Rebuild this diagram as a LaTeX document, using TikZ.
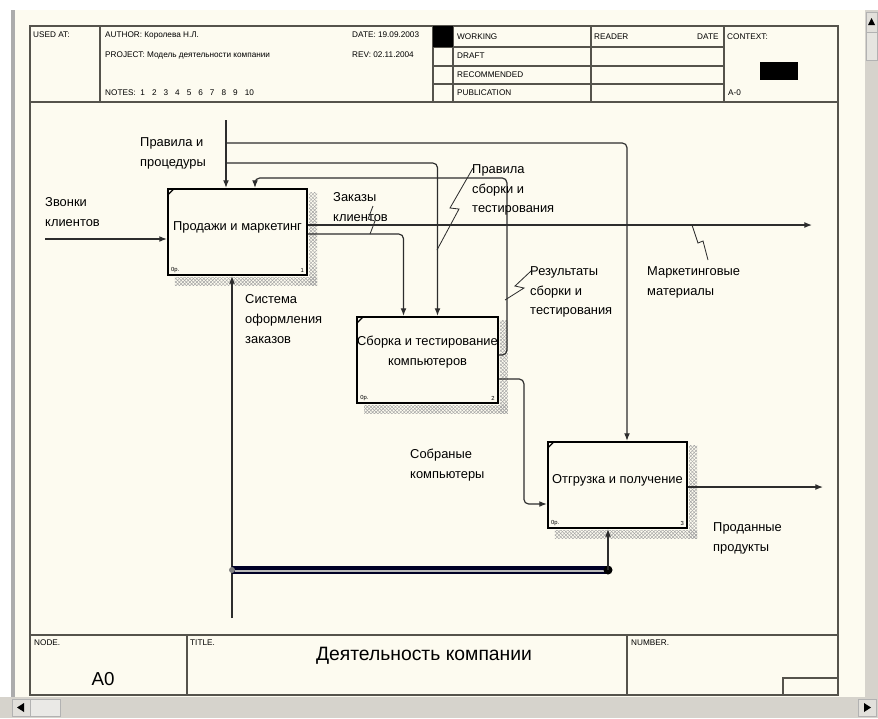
\documentclass[tikz,border=0pt]{standalone}
\usepackage{fontspec}
\setmainfont{Liberation Sans}
\usetikzlibrary{arrows.meta, calc, positioning, patterns}

\definecolor{paper}{RGB}{253,251,240}
\definecolor{ink}{RGB}{45,45,45}
\definecolor{frame}{RGB}{85,83,76}
\definecolor{winbar}{RGB}{214,211,204}

\begin{document}
\begin{tikzpicture}[x=0.03cm, y=-0.03cm, >={Latex[length=6.5pt,width=5pt]},
    fnbox/.style={draw=black, line width=1.9pt, fill=paper, minimum width=4.17cm, minimum height=2.58cm,
      inner sep=0pt, align=center, font=\fontsize{11}{16.5}\selectfont, text depth=10pt},
    lbl/.style={anchor=north west, align=left, inner sep=0pt, font=\fontsize{11}{17}\selectfont},
    tag/.style={anchor=west, inner sep=0pt, font=\fontsize{7}{8}\selectfont},
    mini/.style={inner sep=0pt, font=\fontsize{5}{6}\selectfont},
    flow/.style={draw=ink, line width=1pt, rounded corners=4pt},
    zig/.style={draw=ink, line width=0.7pt},
    rule/.style={draw=frame, line width=1.1pt}]

    \useasboundingbox (0,0) rectangle (878,718);
    \fill[white] (0,0) rectangle (878,718);
    \fill[paper] (15,10) rectangle (865,697);
    \fill[gray!65] (11,10) rectangle (15,697);
    \fill[winbar] (865,10) rectangle (878,697);
    \fill[winbar] (0,697) rectangle (878,718);
    \draw[gray!60, fill=winbar!70] (866,12) rectangle (877,32);
    \fill (871.5,18) -- (868,25) -- (875,25) -- cycle;
    \draw[gray!60, fill=winbar!60] (866,32) rectangle (877,60);
    \draw[gray!60, fill=winbar!70] (12,699) rectangle (30,716);
    \fill (17,707.5) -- (24,703) -- (24,712) -- cycle;
    \draw[gray!60, fill=winbar!50] (30,699) rectangle (60,716);
    \draw[gray!60, fill=winbar!70] (858,699) rectangle (876,716);
    \fill (871,707.5) -- (864,703) -- (864,712) -- cycle;

    \draw[rule] (30,26) rectangle (838,695);
    \draw[rule] (30,102) -- (838,102);
    \foreach \x in {100,433,453,591,724} \draw[rule] (\x,26) -- (\x,102);
    \foreach \y in {47,66,84} \draw[rule] (433,\y) -- (724,\y);
    \fill (433,26) rectangle (453,47);
    \fill (760,62) rectangle (798,80);

    \node[tag] (usedat) at (33,35) {USED AT:};
    \node[tag] (author) at (105,35) {AUTHOR: Королева Н.Л.};
    \node[tag] (project) at (105,55) {PROJECT: Модель деятельности компании};
    \node[tag] (notes) at (105,93) {NOTES:\hspace{4pt}1\hspace{6pt}2\hspace{6pt}3\hspace{6pt}4\hspace{6pt}5\hspace{6pt}6\hspace{6pt}7\hspace{6pt}8\hspace{6pt}9\hspace{6pt}10};
    \node[tag] (date) at (352,35) {DATE: 19.09.2003};
    \node[tag] (rev) at (352,55) {REV: 02.11.2004};
    \foreach \s/\y in {WORKING/37, DRAFT/56, RECOMMENDED/75, PUBLICATION/93}
      \node[tag] (\s) at (457,\y) {\s};
    \node[tag] (reader) at (594,37) {READER};
    \node[tag] (rdate) at (697,37) {DATE};
    \node[tag] (context) at (727,37) {CONTEXT:};
    \node[tag] (ctxnode) at (728,93) {A-0};

    \draw[rule] (30,635) -- (838,635);
    \draw[rule] (187,635) -- (187,695);
    \draw[rule] (627,635) -- (627,695);
    \draw[rule] (783,695) |- (838,678);
    \node[tag] (nodelbl) at (34,643) {NODE.};
    \node[tag] (titlelbl) at (190,643) {TITLE.};
    \node[tag] (numlbl) at (631,643) {NUMBER.};
    \node[font=\fontsize{16}{18}\selectfont] (nodeno) at (103,679) {A0};
    \node[font=\fontsize{16.5}{18}\selectfont] (title) at (424,656) {Деятельность компании};

    \node[fnbox] (sales) at (237.5,232) {Продажи и маркетинг};
    \node[fnbox, text depth=16pt] (assembly) at (427.5,360) {Сборка и тестирование\\компьютеров};
    \node[fnbox] (shipping) at (617.5,485) {Отгрузка и получение};

    \foreach \b/\n in {sales/1, assembly/2, shipping/3} {
      \fill[pattern=crosshatch, pattern color=gray!70] ($(\b.north east)+(1,5)$) rectangle ($(\b.south east)+(9,9)$);
      \fill[pattern=crosshatch, pattern color=gray!70] ($(\b.south west)+(8,1)$) rectangle ($(\b.south east)+(9,9)$);
      \draw[line width=1pt] ($(\b.north west)+(1,7)$) -- ($(\b.north west)+(7,1)$);
      \node[mini, anchor=south west] (\b-op) at ($(\b.south west)+(4,-3)$) {0p.};
      \node[mini, anchor=south east] (\b-no) at ($(\b.south east)+(-4,-3)$) {\n};
    }

    \coordinate (in1) at (45,239);
    \coordinate (ctl) at (226,120);
    \coordinate (br1) at (226,143);
    \coordinate (br2) at (226,163);
    \coordinate (promoend) at (812,225);
    \coordinate (soldend) at (823,487);
    \coordinate (mech) at (232,618);
    \coordinate (barL) at (232,570);
    \coordinate (barR) at (608,570);

    \draw[flow,->] (in1) -- (in1 -| sales.west);
    \draw[flow,->] (ctl) -- (ctl |- sales.north);
    \draw[flow,->] (br1) -| ($(shipping.north)+(9.5,0)$);
    \draw[flow,->] (br2) -| ($(assembly.north)+(10,0)$);
    \draw[flow,->] ($(sales.east)+(0,2)$) -| ($(assembly.north)+(-24,0)$);
    \draw[flow,->] ($(sales.east)+(0,-7)$) -- (promoend);
    \draw[flow,->] ($(assembly.east)+(0,-5)$) -- ++(8,0) -- ++(0,-177) -| ($(sales.north)+(17.5,0)$);
    \draw[flow,->] ($(assembly.east)+(0,19)$) -- ++(25,0) |- ($(shipping.west)+(0,19)$);
    \draw[flow,->] ($(shipping.east)+(0,2)$) -- (soldend);
    \draw[flow,->] (mech) -- ($(sales.south)+(-5.5,0)$);
    \draw[line width=7pt, black!85!blue] (barL) -- (barR);
    \draw[line width=1.5pt, gray!55] ($(barL)+(3,1)$) -- ($(barR)+(-3,1)$);
    \fill[gray] (barL) circle (3);
    \fill (barR) circle (4.5);
    \draw[flow,->] (barR) -- ($(shipping.south)+(-9.5,0)$);

    \node[lbl] (calls) at (45,197) {Звонки\\клиентов};
    \node[lbl] (rules) at (140,137) {Правила и\\процедуры};
    \node[lbl] (orders) at (333,192) {Заказы\\клиентов};
    \node[lbl] (asmrules) at (472,164) {Правила\\сборки и\\тестирования};
    \node[lbl] (results) at (530,266) {Результаты\\сборки и\\тестирования};
    \node[lbl] (promo) at (647,266) {Маркетинговые\\материалы};
    \node[lbl] (ordsys) at (245,294) {Система\\оформления\\заказов};
    \node[lbl] (built) at (410,449) {Собраные\\компьютеры};
    \node[lbl] (sold) at (713,522) {Проданные\\продукты};

    \draw[zig] (373,206) -- (368,219) -- (375,221) -- (370,234);
    \draw[zig] (473,168) -- (450,208) -- (459,209) -- (437,250);
    \draw[zig] (531,271) -- (515,286) -- (524,288) -- (505,300);
    \draw[zig] (692,225) -- (698,243) -- (703,241) -- (708,260);
\end{tikzpicture}
\end{document}
